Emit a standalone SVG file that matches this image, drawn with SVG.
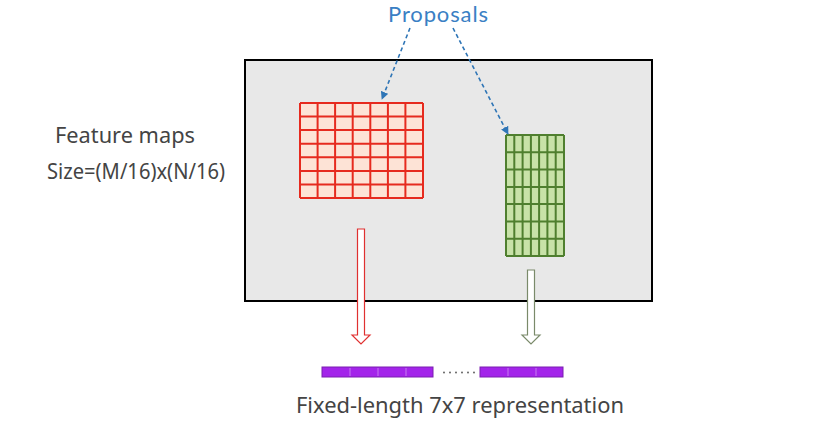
<svg xmlns="http://www.w3.org/2000/svg" width="837" height="421" viewBox="0 0 837 421">
<defs>
<style>
.t{font-family:"Noto Sans","Liberation Sans",sans-serif;fill:#444444}
.red rect{fill:#fde3d6}
.red line{stroke:#e62a1e;stroke-width:2}
.grn line{stroke:#4f7f2f;stroke-width:2}
.dash{stroke:#2e75b6;stroke-width:1.6;stroke-dasharray:4 3;fill:none}
.bar{fill:#a324ea;stroke:#7a1eb0;stroke-width:1}
.seg{stroke:#c67af0;stroke-width:1}
.dot{fill:#555}
</style>
<marker id="ah" viewBox="0 0 10 10" refX="9" refY="5" markerWidth="5" markerHeight="5" orient="auto"><path d="M0,0 L10,5 L0,10 z" fill="#2e75b6"/></marker>
</defs>
<rect width="837" height="421" fill="#ffffff"/>
<g id="featuremap">
<rect x="245" y="60" width="407" height="241" fill="#e8e8e8" stroke="#000" stroke-width="2"/>
</g>
<g id="label-feature">
<text class="t" x="55" y="143" font-size="22" textLength="140" lengthAdjust="spacingAndGlyphs">Feature maps</text>
<text class="t" x="47" y="179" font-size="22" textLength="178" lengthAdjust="spacingAndGlyphs">Size=(M/16)x(N/16)</text>
</g>
<g id="red-grid" class="red">
<rect x="300" y="103" width="123" height="95"/>
<g>
<line x1="300" y1="103" x2="300" y2="198"/><line x1="317.6" y1="103" x2="317.6" y2="198"/><line x1="335.1" y1="103" x2="335.1" y2="198"/><line x1="352.7" y1="103" x2="352.7" y2="198"/><line x1="370.3" y1="103" x2="370.3" y2="198"/><line x1="387.9" y1="103" x2="387.9" y2="198"/><line x1="405.4" y1="103" x2="405.4" y2="198"/><line x1="423" y1="103" x2="423" y2="198"/>
<line x1="300" y1="103" x2="423" y2="103"/><line x1="300" y1="116.6" x2="423" y2="116.6"/><line x1="300" y1="130.1" x2="423" y2="130.1"/><line x1="300" y1="143.7" x2="423" y2="143.7"/><line x1="300" y1="157.3" x2="423" y2="157.3"/><line x1="300" y1="170.9" x2="423" y2="170.9"/><line x1="300" y1="184.4" x2="423" y2="184.4"/><line x1="300" y1="198" x2="423" y2="198"/>
</g>
</g>
<g id="green-grid" class="grn">
<rect x="506" y="135" width="58" height="121" fill="#c8e2a8"/>
<g>
<line x1="506" y1="135" x2="506" y2="256"/><line x1="514.3" y1="135" x2="514.3" y2="256"/><line x1="522.6" y1="135" x2="522.6" y2="256"/><line x1="530.9" y1="135" x2="530.9" y2="256"/><line x1="539.1" y1="135" x2="539.1" y2="256"/><line x1="547.4" y1="135" x2="547.4" y2="256"/><line x1="555.7" y1="135" x2="555.7" y2="256"/><line x1="564" y1="135" x2="564" y2="256"/>
<line x1="506" y1="135" x2="564" y2="135"/><line x1="506" y1="152.3" x2="564" y2="152.3"/><line x1="506" y1="169.6" x2="564" y2="169.6"/><line x1="506" y1="186.9" x2="564" y2="186.9"/><line x1="506" y1="204.1" x2="564" y2="204.1"/><line x1="506" y1="221.4" x2="564" y2="221.4"/><line x1="506" y1="238.7" x2="564" y2="238.7"/><line x1="506" y1="256" x2="564" y2="256"/>
</g>
</g>
<g id="proposals">
<text x="388" y="22" font-family="Lato,'Liberation Sans',sans-serif" font-size="22" fill="#3a7fc4" textLength="100" lengthAdjust="spacing">Proposals</text>
</g>
<g id="output">
<rect class="bar" x="322" y="367" width="111" height="10"/>
<line class="seg" x1="350" y1="368" x2="350" y2="376"/><line class="seg" x1="378" y1="368" x2="378" y2="376"/><line class="seg" x1="406" y1="368" x2="406" y2="376"/>
<circle class="dot" cx="444" cy="372.5" r="0.9"/><circle class="dot" cx="450" cy="372.5" r="0.9"/><circle class="dot" cx="456" cy="372.5" r="0.9"/><circle class="dot" cx="462" cy="372.5" r="0.9"/><circle class="dot" cx="468" cy="372.5" r="0.9"/><circle class="dot" cx="474" cy="372.5" r="0.9"/>
<rect class="bar" x="480" y="367" width="83" height="10"/>
<line class="seg" x1="508" y1="368" x2="508" y2="376"/><line class="seg" x1="536" y1="368" x2="536" y2="376"/>
<text class="t" x="296" y="413" font-size="22" textLength="328" lengthAdjust="spacingAndGlyphs">Fixed-length 7x7 representation</text>
</g>
<g id="connectors">
<path class="dash" d="M410,28 L382,99" marker-end="url(#ah)"/>
<path class="dash" d="M453,28 L508,134" marker-end="url(#ah)"/>
<path d="M357.5,229 H364.5 V335 H370 L361,344 L352,335 H357.5 Z" fill="#fff" stroke="#e03030" stroke-width="1.2"/>
<path d="M527.5,270 H534.5 V335 H540 L531,344 L522,335 H527.5 Z" fill="#fff" stroke="#7a8a6a" stroke-width="1.2"/>
</g>
</svg>
